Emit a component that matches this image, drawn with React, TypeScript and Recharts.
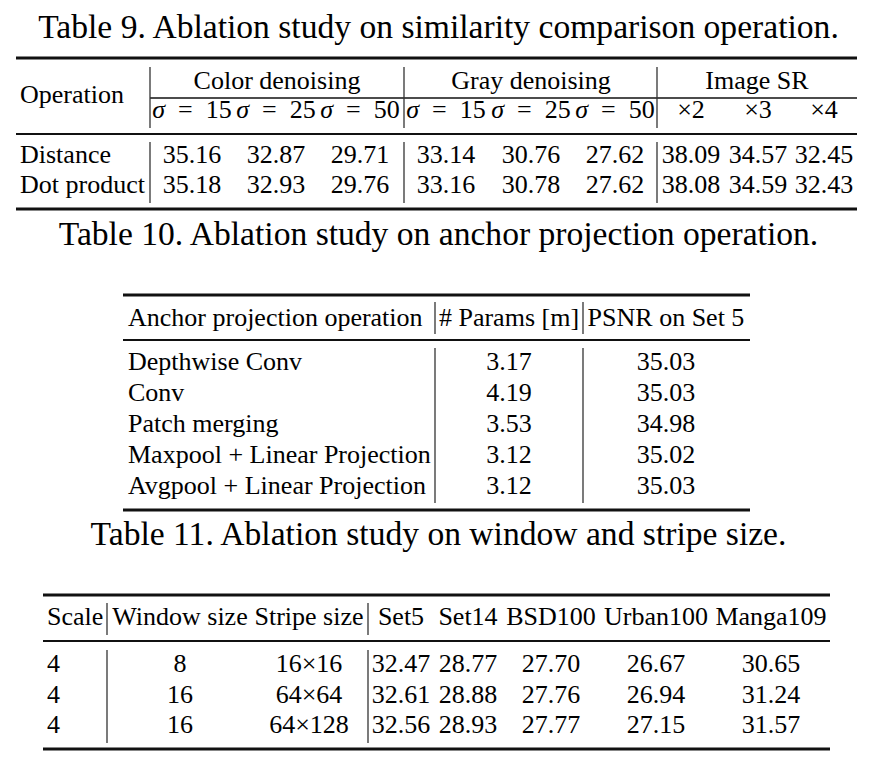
import React from "react";
import { ScatterChart, Scatter, XAxis, YAxis, ReferenceLine } from "recharts";

const W = 870;
const H = 763;
const FONT = '"Liberation Serif", "Times New Roman", serif';

// Table 9
const t9Title = "Table 9. Ablation study on similarity comparison operation.";
const t9Groups = ["Color denoising", "Gray denoising", "Image SR"];
const t9Sigmas = [15, 25, 50];
const t9Scales = ["×2", "×3", "×4"];
const t9Ops = ["Distance", "Dot product"];
const t9Distance = [35.16, 32.87, 29.71, 33.14, 30.76, 27.62, 38.09, 34.57, 32.45];
const t9DotProduct = [35.18, 32.93, 29.76, 33.16, 30.78, 27.62, 38.08, 34.59, 32.43];

// Table 10
const t10Title = "Table 10. Ablation study on anchor projection operation.";
const t10Headers = ["Anchor projection operation", "# Params [m]", "PSNR on Set 5"];
const t10Ops = ["Depthwise Conv", "Conv", "Patch merging", "Maxpool + Linear Projection", "Avgpool + Linear Projection"];
const t10Params = [3.17, 4.19, 3.53, 3.12, 3.12];
const t10Psnr = [35.03, 35.03, 34.98, 35.02, 35.03];

// Table 11
const t11Title = "Table 11. Ablation study on window and stripe size.";
const t11Headers = ["Scale", "Window size", "Stripe size", "Set5", "Set14", "BSD100", "Urban100", "Manga109"];
const t11Scale = [4, 4, 4];
const t11Window = [8, 16, 16];
const t11Stripe = ["16×16", "64×64", "64×128"];
const t11Set5 = [32.47, 32.61, 32.56];
const t11Set14 = [28.77, 28.88, 28.93];
const t11BSD100 = [27.70, 27.76, 27.77];
const t11Urban100 = [26.67, 26.94, 27.15];
const t11Manga109 = [30.65, 31.24, 31.57];

// layout
const titleX = 438.5;
const titleSize = 33.6;
const t9 = { title: 38, group: 89, sub: 118, op: 103, rows: [163, 193], cols: [192, 276, 360, 446, 531, 615, 691, 758, 824], groupX: [277, 531, 757], left: 20 };
const t10 = { title: 245, head: 326, rows: [370, 401, 432, 463, 494], cols: [128, 509, 666] };
const t11 = { title: 545, head: 625, rows: [672, 703, 733], cols: [47, 180, 309, 401, 468, 551, 656, 771] };

type Cell = { x: number; y: number; label: string; anchor: string; size: number; sigma?: boolean };

const cells: Cell[] = [];
const add = (x: number, y: number, label: string, anchor = "middle", size = 26, sigma = false) =>
  cells.push({ x, y, label, anchor, size, sigma });

add(titleX, t9.title, t9Title, "middle", titleSize);
add(t9.left, t9.op, "Operation", "start");
t9Groups.forEach((g, i) => add(t9.groupX[i], t9.group, g));
[0, 1].forEach((gi) => t9Sigmas.forEach((s, i) => add(t9.cols[gi * 3 + i], t9.sub, String(s), "middle", 26, true)));
t9Scales.forEach((s, i) => add(t9.cols[6 + i], t9.sub, s));
[t9Distance, t9DotProduct].forEach((row, r) => {
  add(t9.left, t9.rows[r], t9Ops[r], "start");
  row.forEach((v, i) => add(t9.cols[i], t9.rows[r], v.toFixed(2)));
});

add(titleX, t10.title, t10Title, "middle", titleSize);
t10Headers.forEach((h, i) => add(t10.cols[i], t10.head, h, i === 0 ? "start" : "middle"));
t10Ops.forEach((op, r) => {
  add(t10.cols[0], t10.rows[r], op, "start");
  add(t10.cols[1], t10.rows[r], t10Params[r].toFixed(2));
  add(t10.cols[2], t10.rows[r], t10Psnr[r].toFixed(2));
});

add(titleX, t11.title, t11Title, "middle", titleSize);
t11Headers.forEach((h, i) => add(t11.cols[i], t11.head, h, i === 0 ? "start" : "middle"));
t11Scale.forEach((s, r) => {
  const vals = [String(s), String(t11Window[r]), t11Stripe[r], t11Set5[r].toFixed(2), t11Set14[r].toFixed(2), t11BSD100[r].toFixed(2), t11Urban100[r].toFixed(2), t11Manga109[r].toFixed(2)];
  vals.forEach((v, i) => add(t11.cols[i], t11.rows[r], v, i === 0 ? "start" : "middle"));
});

// horizontal rules and vertical separators
const hRules = [
  { x1: 16, x2: 857, y: 58, w: 3 },
  { x1: 150, x2: 857, y: 98, w: 1.5 },
  { x1: 16, x2: 857, y: 134, w: 2 },
  { x1: 16, x2: 857, y: 209, w: 3 },
  { x1: 123, x2: 750, y: 295, w: 3 },
  { x1: 123, x2: 750, y: 340, w: 2 },
  { x1: 123, x2: 750, y: 510, w: 3 },
  { x1: 43, x2: 830, y: 595, w: 3 },
  { x1: 43, x2: 830, y: 641, w: 2 },
  { x1: 43, x2: 830, y: 749, w: 3 },
];
const vRules = [
  ...[150, 404, 657].flatMap((x) => [{ x, y1: 67, y2: 128 }, { x, y1: 142, y2: 203 }]),
  ...[435, 583].flatMap((x) => [{ x, y1: 302, y2: 334 }, { x, y1: 348, y2: 503 }]),
  ...[107, 368].flatMap((x) => [{ x, y1: 603, y2: 635 }, { x, y1: 650, y2: 743 }]),
];

const renderCell = (props: any) => {
  const p: Cell = props.payload;
  return (
    <text x={props.cx} y={props.cy} textAnchor={p.anchor} fontSize={p.size} fontFamily={FONT} fill="#000">
      {p.sigma ? (
        <>
          <tspan fontStyle="italic">σ</tspan>
          {"\u2002=\u2002" + p.label}
        </>
      ) : (
        p.label
      )}
    </text>
  );
};

export default function App() {
  return (
    <div style={{ position: "absolute", left: 0, top: 0, width: W, height: H, background: "#fff" }}>
      <ScatterChart width={W} height={H} margin={{ top: 0, right: 0, bottom: 0, left: 0 }}>
        <XAxis type="number" dataKey="x" domain={[0, W]} hide />
        <YAxis type="number" dataKey="y" domain={[0, H]} reversed hide />
        {hRules.map((r, i) => (
          <ReferenceLine key={"h" + i} segment={[{ x: r.x1, y: r.y }, { x: r.x2, y: r.y }]} stroke="#111" strokeWidth={r.w} ifOverflow="visible" />
        ))}
        {vRules.map((r, i) => (
          <ReferenceLine key={"v" + i} segment={[{ x: r.x, y: r.y1 }, { x: r.x, y: r.y2 }]} stroke="#333" strokeWidth={1.3} ifOverflow="visible" />
        ))}
        <Scatter data={cells} shape={renderCell} isAnimationActive={false} />
      </ScatterChart>
    </div>
  );
}
